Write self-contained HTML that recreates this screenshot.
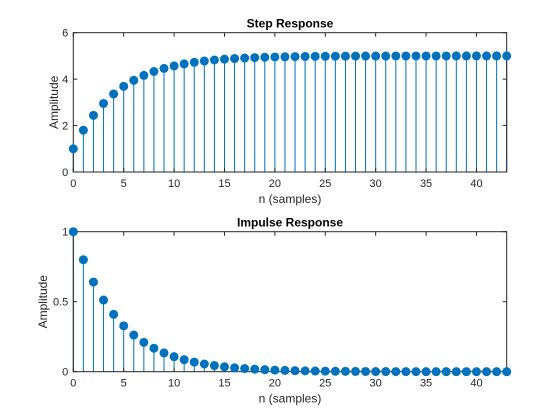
<!DOCTYPE html>
<html><head><meta charset="utf-8"><style>
body{margin:0;background:#fff}
svg{font-family:"Liberation Sans",sans-serif;display:block}
</style></head><body>
<svg id="c" width="560" height="420" viewBox="0 0 560 420" xmlns="http://www.w3.org/2000/svg"></svg>
<script>
const samples=[0,1,2,3,4,5,6,7,8,9,10,11,12,13,14,15,16,17,18,19,20,21,22,23,24,25,26,27,28,29,30,31,32,33,34,35,36,37,38,39,40,41,42,43];
const stepValues=[1,1.8,2.44,2.952,3.3616,3.6893,3.9514,4.1611,4.3289,4.4631,4.5705,4.6564,4.7251,4.7801,4.8241,4.8593,4.8874,4.9099,4.9279,4.9424,4.9539,4.9631,4.9705,4.9764,4.9811,4.9849,4.9879,4.9903,4.9923,4.9938,4.995,4.996,4.9968,4.9975,4.998,4.9984,4.9987,4.999,4.9992,4.9993,4.9995,4.9996,4.9997,4.9997];
const impulseValues=[1,0.8,0.64,0.512,0.4096,0.3277,0.2621,0.2097,0.1678,0.1342,0.1074,0.0859,0.0687,0.055,0.044,0.0352,0.0281,0.0225,0.018,0.0144,0.0115,0.0092,0.0074,0.0059,0.0047,0.0038,0.003,0.0024,0.0019,0.0015,0.0012,0.001,0.0008,0.0006,0.0005,0.0004,0.0003,0.0003,0.0002,0.0002,0.0001,0.0001,0.0001,0.0001];
const xTicks=[0,5,10,15,20,25,30,35,40];
const stepYTicks=[0,2,4,6];
const stepYLabels=["0","2","4","6"];
const impYTicks=[0,0.5,1];
const impYLabels=["0","0.5","1"];
const NS="http://www.w3.org/2000/svg";
const svg=document.getElementById('c');
function mk(tag,attrs,parent){const e=document.createElementNS(NS,tag);for(const k in attrs)e.setAttribute(k,attrs[k]);(parent||svg).appendChild(e);return e;}
function panel(name,top,bottom,ymax,yTicks,yLabels,vals,title,ylx){
  const L=73.3,R=506.7;
  const g=mk('g',{});
  
  
  const xs=v=>L+(v-0)*(R-L)/43;
  const ys=v=>bottom-v*(bottom-top)/ymax;
  const bg=mk('rect',{x:L,y:top,width:R-L,height:bottom-top,fill:'#fff'},g);
  
  
  for(let i=0;i<samples.length;i++){
    const st=mk('line',{x1:xs(samples[i]),x2:xs(samples[i]),y1:ys(0),y2:ys(vals[i]),stroke:'#0072BD','stroke-width':1},g);
    
    
  }
  const box=mk('rect',{x:L,y:top,width:R-L,height:bottom-top,fill:'none',stroke:'#262626','stroke-width':1},g);
  
  
  xTicks.forEach(t=>{
    const x=xs(t);
    mk('line',{x1:x,x2:x,y1:bottom,y2:bottom-4,stroke:'#262626'},g);
    mk('line',{x1:x,x2:x,y1:top,y2:top+4,stroke:'#262626'},g);
    const tx=mk('text',{x:x,y:bottom+15,'text-anchor':'middle','font-size':11,fill:'#262626'},g);
    tx.textContent=t;
    
    
  });
  yTicks.forEach((t,i)=>{
    const y=ys(t);
    mk('line',{x1:L,x2:L+4,y1:y,y2:y,stroke:'#262626'},g);
    mk('line',{x1:R,x2:R-4,y1:y,y2:y,stroke:'#262626'},g);
    const tx=mk('text',{x:L-5,y:y+4,'text-anchor':'end','font-size':11,fill:'#262626'},g);
    tx.textContent=yLabels[i];
    
    
  });
  for(let i=0;i<samples.length;i++){
    const c=mk('circle',{cx:xs(samples[i]),cy:ys(vals[i]),r:4.5,fill:'#0072BD'},g);
    
    
  }
  const ti=mk('text',{x:(L+R)/2,y:top-5,'text-anchor':'middle','font-size':12,'font-weight':'bold',fill:'#000'},g);
  ti.textContent=title;
  
  
  const xl=mk('text',{x:(L+R)/2,y:bottom+31,'text-anchor':'middle','font-size':12,fill:'#262626'},g);
  xl.textContent='n (samples)';
  
  
  const yc=(top+bottom)/2;
  const yl=mk('text',{x:ylx,y:yc,'text-anchor':'middle','font-size':12,fill:'#262626',transform:'rotate(-90 '+ylx+' '+yc+')'},g);
  yl.textContent='Amplitude';
  
  
}
panel('step-response-axes',32.7,172,6,stepYTicks,stepYLabels,stepValues,'Step Response',58);
panel('impulse-response-axes',231.7,371.7,1,impYTicks,impYLabels,impulseValues,'Impulse Response',47);
</script>
</body></html>
